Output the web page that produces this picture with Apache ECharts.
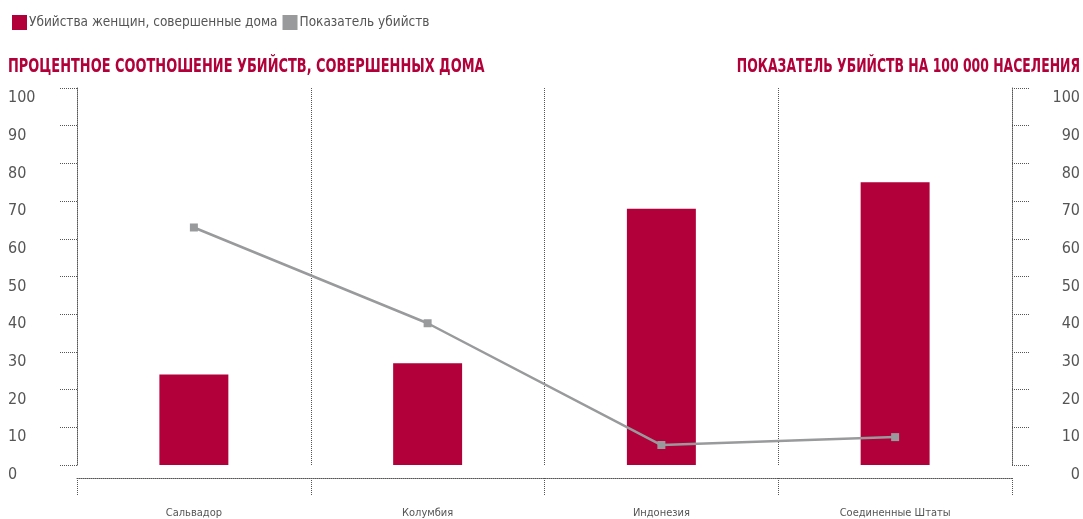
<!DOCTYPE html>
<html><head><meta charset="utf-8">
<script src="https://cdn.jsdelivr.net/npm/echarts@6/dist/echarts.min.js"></script>
<style>html,body{margin:0;padding:0;background:#fff}#c{width:1083px;height:519px}</style>
</head><body><div id="c"></div>
<script>
const categories = ['Сальвадор', 'Колумбия', 'Индонезия', 'Соединенные Штаты'];
const homeShare = [24, 27, 68, 75];
const homicideRate = [63, 37.6, 5.3, 7.4];
const leftTitle = 'ПРОЦЕНТНОЕ СООТНОШЕНИЕ УБИЙСТВ, СОВЕРШЕННЫХ ДОМА';
const rightTitle = 'ПОКАЗАТЕЛЬ УБИЙСТВ НА 100 000 НАСЕЛЕНИЯ';
const seriesNames = ['Убийства женщин, совершенные дома', 'Показатель убийств'];

const FONT = '"DejaVu Sans Condensed", "Liberation Sans", sans-serif';
const RED = '#b1003a', GRAY = '#999a9c', DOT = '#555';
const chart = echarts.init(document.getElementById('c'));
const yAx = (pos, align, margin) => ({
  type: 'value', position: pos, min: 0, max: 100, interval: 10,
  axisLine: {show: true, lineStyle: {color: DOT, type: 'dotted', width: 1}},
  axisTick: {show: true, length: 18, lineStyle: {color: DOT, type: 'dotted', width: 1}},
  splitLine: {show: false},
  axisLabel: {align: align, margin: margin, verticalAlign: 'top', padding: [2, 0, 0, 0],
    color: '#555', fontFamily: FONT, fontSize: 16}
});
chart.setOption({
  animation: false,
  graphic: [
    {type: 'text', x: 8, y: 67, scaleX: 0.757, silent: true,
      style: {text: leftTitle, fill: RED, fontFamily: FONT, fontWeight: 'bold', fontSize: 19, align: 'left', verticalAlign: 'middle'}},
    {type: 'text', x: 1080, y: 67, scaleX: 0.727, silent: true,
      style: {text: rightTitle, fill: RED, fontFamily: FONT, fontWeight: 'bold', fontSize: 19, align: 'right', verticalAlign: 'middle'}}
  ],
  legend: {
    left: 7, top: 10, itemWidth: 15, itemHeight: 15, itemGap: 5, icon: 'rect',
    textStyle: {color: '#555', fontFamily: FONT, fontSize: 13.5, padding: [0, 0, 0, -3]},
    data: [{name: seriesNames[0], itemStyle: {color: RED}}, {name: seriesNames[1], itemStyle: {color: GRAY}}]
  },
  grid: {left: 77, right: 71, top: 88, bottom: 53},
  xAxis: {
    type: 'category', data: categories, offset: 13,
    axisLine: {show: true, onZero: false, lineStyle: {color: DOT, type: 'dotted', width: 1}},
    axisTick: {show: true, length: 18, inside: false, lineStyle: {color: DOT, type: 'dotted', width: 1}},
    splitLine: {show: true, lineStyle: {color: DOT, type: 'dotted', width: 1}},
    axisLabel: {margin: 30, color: '#555', fontFamily: FONT, fontSize: 11}
  },
  yAxis: [yAx('left', 'left', 69), yAx('right', 'right', 68)],
  series: [
    {name: seriesNames[0], type: 'bar', data: homeShare, barWidth: '29.5%', itemStyle: {color: RED}, yAxisIndex: 0},
    {name: seriesNames[1], type: 'line', data: homicideRate, yAxisIndex: 1, symbol: 'rect', symbolSize: 8,
      lineStyle: {color: GRAY, width: 2.5}, itemStyle: {color: GRAY}}
  ]
});
</script></body></html>
